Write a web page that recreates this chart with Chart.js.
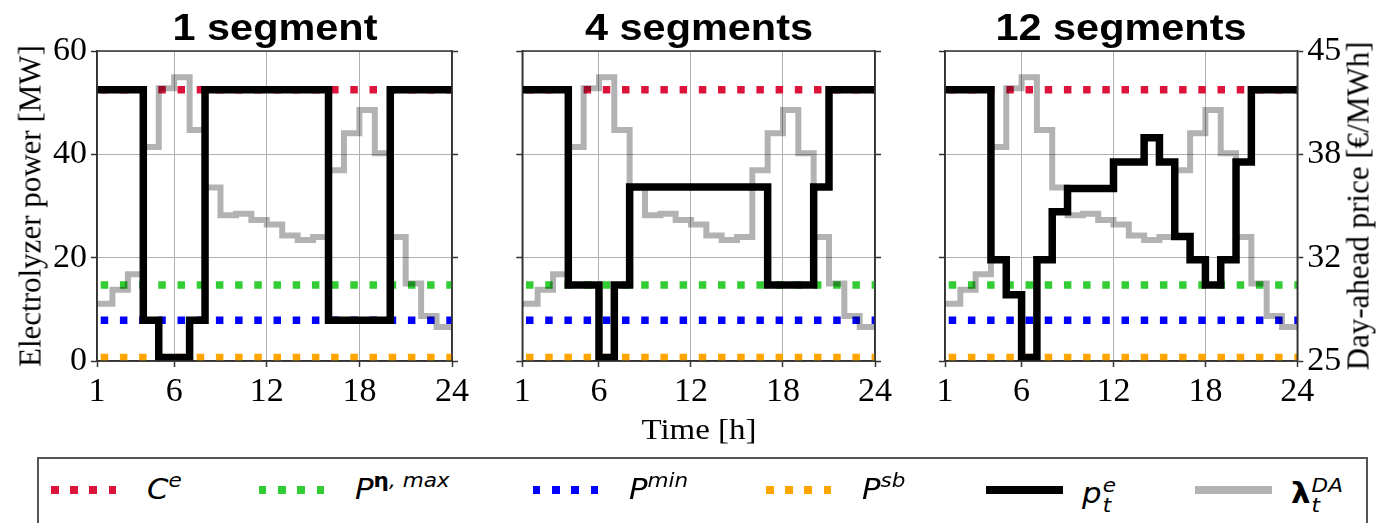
<!DOCTYPE html>
<html>
<head>
<meta charset="utf-8">
<script src="https://cdn.jsdelivr.net/npm/chart.js@4.4.1/dist/chart.umd.min.js"></script>
<style>
  body { margin: 0; width: 1377px; height: 523px; overflow: hidden; background: #fff; position: relative; }
  canvas { position: absolute; left: 0; top: 0; }
  .title { position: absolute; top: 9px; font: bold 37px 'Liberation Sans', Arial, sans-serif; line-height: 37px;
           white-space: nowrap; transform: translateX(-50%) scaleX(1.12); color: #000; }
  .ylab { position: absolute; font: 31px 'Liberation Serif', 'Times New Roman', serif; line-height: 31px;
          white-space: nowrap; transform: translate(-50%, -50%) rotate(-90deg); color: #000; }
  .xlab { position: absolute; top: 414px; font: 30px 'Liberation Serif', 'Times New Roman', serif; line-height: 30px;
          white-space: nowrap; transform: translateX(-50%) scaleX(1.1); color: #000; }
  .legend { position: absolute; left: 37px; top: 457px; width: 1331px; height: 100px; border: 2px solid #555; box-sizing: border-box; }
  .swatch { position: absolute; top: 486px; width: 77px; height: 7.5px; }
  .lt { position: absolute; top: 476px; font: italic 28px 'DejaVu Sans', sans-serif; line-height: 28px;
        white-space: nowrap; transform: scaleX(1.1); transform-origin: left center; color: #000; }
  .lt sup { font-size: 0.7em; vertical-align: 0.6em; line-height: 0; }
  .stack { display: inline-flex; flex-direction: column; font-size: 0.7em; line-height: 1; vertical-align: 0.55em; margin-left: 1px; }
</style>
</head>
<body>
<canvas id="p1" width="1377" height="450"></canvas>
<canvas id="p2" width="1377" height="450"></canvas>
<canvas id="p3" width="1377" height="450"></canvas>

<div class="title" style="left:274.5px">1 segment</div>
<div class="title" style="left:698.7px">4 segments</div>
<div class="title" style="left:1121.2px">12 segments</div>

<div class="ylab" style="left:30px; top:206px">Electrolyzer power [MW]</div>
<div class="ylab" style="left:1358px; top:206px">Day-ahead price [€/MWh]</div>
<div class="xlab" style="left:698.7px">Time [h]</div>

<div class="legend"></div>
<div id="legendItems"></div>

<script>
const hours = [1, 2, 3, 4, 5, 6, 7, 8, 9, 10, 11, 12, 13, 14, 15, 16, 17, 18, 19, 20, 21, 22, 23, 24];
const xTicks = [1, 6, 12, 18, 24];
const powerTicks = [0, 20, 40, 60];
const priceTicks = [25, 31.667, 38.333, 45];
const priceTickLabels = ['25', '32', '38', '45'];

// day-ahead price, EUR/MWh
const dayAheadPrice = [28.7, 29.6, 30.6, 38.8, 42.6, 43.3, 39.9, 36.2, 34.4, 34.5, 34.1, 33.8,
                       33.1, 32.8, 33.0, 37.3, 39.7, 41.2, 38.4, 33.0, 30.0, 27.9, 27.2, 27.2];

// electrolyzer power, MW
const power1seg = [52.5, 52.5, 52.5, 7.9, 0.7, 0.7, 7.9, 52.5, 52.5, 52.5, 52.5, 52.5,
                   52.5, 52.5, 52.5, 7.9, 7.9, 7.9, 7.9, 52.5, 52.5, 52.5, 52.5, 52.5];
const power4seg = [52.5, 52.5, 52.5, 14.7, 14.7, 0.7, 14.7, 33.7, 33.7, 33.7, 33.7, 33.7,
                   33.7, 33.7, 33.7, 33.7, 14.7, 14.7, 14.7, 33.7, 52.5, 52.5, 52.5, 52.5];
const power12seg = [52.5, 52.5, 52.5, 19.6, 12.8, 0.7, 19.6, 28.9, 33.4, 33.4, 33.4, 38.5,
                    38.5, 43.2, 38.5, 24.1, 19.6, 14.7, 19.6, 38.5, 52.5, 52.5, 52.5, 52.5];

const capacity = 52.5;     // C^e
const pEtaMax = 14.7;      // P^eta,max
const pMin = 7.9;          // P^min
const pStandby = 0.7;      // P^sb

const colors = { cap: '#dc143c', eta: '#32cd32', min: '#0000ff', sb: '#ffa500', power: '#000000', price: 'rgba(0,0,0,0.3)' };

const serif = "'Liberation Serif', 'Times New Roman', serif";

const framePlugin = {
  id: 'frame',
  afterDatasetsDraw(chart) {
    const a = chart.chartArea;
    const ctx = chart.ctx;
    ctx.save();
    ctx.strokeStyle = '#333';
    ctx.lineWidth = 1.5;
    ctx.strokeRect(a.left, a.top, a.right - a.left, a.bottom - a.top);
    ctx.restore();
  }
};

function levelLine(value, color) {
  return {
    data: [{ x: hours[0], y: value }, { x: hours[hours.length - 1], y: value }],
    borderColor: color,
    borderWidth: 7.5,
    borderDash: [7.5, 11.7],
    borderDashOffset: 15.5,
    borderCapStyle: 'butt',
    pointRadius: 0,
    yAxisID: 'y'
  };
}

function makePanel(id, power, left, right, showLeft, showRight) {
  new Chart(document.getElementById(id), {
    type: 'line',
    data: {
      datasets: [
        {
          data: hours.map((h, i) => ({ x: h, y: power[i] })),
          borderColor: colors.power, borderWidth: 7.5, stepped: 'before',
          borderJoinStyle: 'miter', borderCapStyle: 'butt', pointRadius: 0, yAxisID: 'y'
        },
        {
          data: hours.map((h, i) => ({ x: h, y: dayAheadPrice[i] })),
          borderColor: colors.price, borderWidth: 6, stepped: 'before',
          borderJoinStyle: 'miter', borderCapStyle: 'butt', pointRadius: 0, yAxisID: 'y2'
        },
        levelLine(capacity, colors.cap),
        levelLine(pEtaMax, colors.eta),
        levelLine(pMin, colors.min),
        levelLine(pStandby, colors.sb)
      ]
    },
    options: {
      responsive: false,
      animation: false,
      devicePixelRatio: 1,
      layout: { padding: { top: 51, left: 0, right: 0, bottom: 0 } },
      plugins: { legend: { display: false }, tooltip: { enabled: false }, title: { display: false } },
      scales: {
        x: {
          type: 'linear', min: 1, max: 24,
          afterBuildTicks: s => { s.ticks = xTicks.map(v => ({ value: v })); },
          afterFit: s => { s.height = 450 - 361; },
          ticks: { color: '#000', font: { family: serif, size: 34 }, padding: 5, maxRotation: 0, autoSkip: false },
          grid: { color: '#b0b0b0', lineWidth: 1, tickLength: 6, tickColor: '#333', tickWidth: 1.5 },
          border: { color: '#333', width: 1.5 }
        },
        y: {
          position: 'left', min: 0, max: 60,
          afterBuildTicks: s => { s.ticks = powerTicks.map(v => ({ value: v })); },
          afterFit: s => { s.width = left; },
          ticks: { display: showLeft, color: '#000', font: { family: serif, size: 34 }, padding: 4 },
          grid: { color: '#b0b0b0', lineWidth: 1, tickLength: 6, tickColor: '#333', tickWidth: 1.5 },
          border: { color: '#333', width: 1.5 }
        },
        y2: {
          position: 'right', min: 25, max: 45,
          afterBuildTicks: s => { s.ticks = priceTicks.map(v => ({ value: v })); },
          afterFit: s => { s.width = 1377 - right; },
          ticks: { display: showRight, color: '#000', font: { family: serif, size: 34 }, padding: 4,
                   callback: (v, i) => priceTickLabels[i] },
          grid: { drawOnChartArea: false, tickLength: 6, tickColor: '#333', tickWidth: 1.5 },
          border: { color: '#333', width: 1.5 }
        }
      }
    },
    plugins: [framePlugin]
  });
}

makePanel('p1', power1seg, 97, 452, true, false);
makePanel('p2', power4seg, 522.3, 875, false, false);
makePanel('p3', power12seg, 945, 1297.3, false, true);

// legend
const legendEntries = [
  { x: 50.7, color: colors.cap, dotted: true, html: 'C<sup>e</sup>' },
  { x: 259, color: colors.eta, dotted: true, html: 'P<sup><b style="font-style:normal">η</b>, max</sup>' },
  { x: 533, color: colors.min, dotted: true, html: 'P<sup>min</sup>' },
  { x: 766, color: colors.sb, dotted: true, html: 'P<sup>sb</sup>' },
  { x: 986, color: colors.power, dotted: false, html: 'p<span class="stack"><span>e</span><span>t</span></span>' },
  { x: 1195, color: '#b3b3b3', dotted: false, html: '<b style="font-style:normal">λ</b><span class="stack"><span>DA</span><span>t</span></span>' }
];
const holder = document.getElementById('legendItems');
legendEntries.forEach(e => {
  const sw = document.createElement('div');
  sw.className = 'swatch';
  sw.style.left = e.x + 'px';
  sw.style.background = e.dotted
    ? `repeating-linear-gradient(90deg, ${e.color} 0 7.5px, transparent 7.5px 19.2px)`
    : e.color;
  holder.appendChild(sw);
  const t = document.createElement('div');
  t.className = 'lt';
  t.style.left = (e.x + 96) + 'px';
  t.innerHTML = e.html;
  holder.appendChild(t);
});
</script>
</body>
</html>
